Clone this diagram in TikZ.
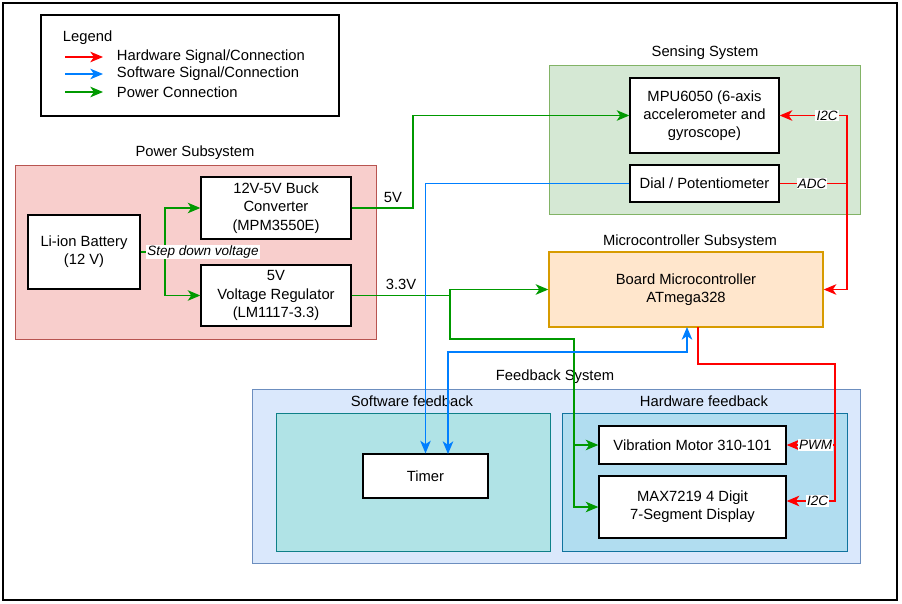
\documentclass[tikz,border=0pt]{standalone}
\usepackage{fontspec}
\setmainfont{Liberation Sans}
\usetikzlibrary{arrows.meta}

\definecolor{hwred}{HTML}{FF0000}
\definecolor{swblue}{HTML}{007FFF}
\definecolor{pwrgreen}{HTML}{009900}
\definecolor{pinkfill}{HTML}{F8CECC}
\definecolor{pinkline}{HTML}{B85450}
\definecolor{greenfill}{HTML}{D5E8D4}
\definecolor{greenline}{HTML}{82B366}
\definecolor{orangefill}{HTML}{FFE6CC}
\definecolor{orangeline}{HTML}{D79B00}
\definecolor{bluefill}{HTML}{DAE8FC}
\definecolor{blueline}{HTML}{6C8EBF}
\definecolor{tealfill}{HTML}{B0E3E6}
\definecolor{tealline}{HTML}{0E8088}
\definecolor{skyfill}{HTML}{B1DDF0}
\definecolor{skyline}{HTML}{10739E}

\begin{document}
\begin{tikzpicture}[x=0.025cm, y=-0.025cm, >={Stealth[length=9pt,width=7.5pt,inset=2.5pt]},
    font=\fontsize{10.5}{13}\selectfont,
    box/.style={draw, fill=white, line width=0.9pt, align=center, inner sep=0pt},
    hw/.style={draw=hwred, line width=0.9pt},
    sw/.style={draw=swblue, line width=0.9pt},
    pwr/.style={draw=pwrgreen, line width=0.9pt},
    lbl/.style={fill=white, inner sep=0.8pt, font=\fontsize{9.6}{11}\selectfont\itshape}]
    \useasboundingbox (0,0) rectangle (902,604);
    \draw[line width=1pt] (3,3) rectangle (897,600);

    % legend
    \draw[line width=0.8pt] (41,15) rectangle (339,116);
    \node[anchor=west] (leg) at (58,38) {Legend};
    \draw[hw,->] (65,57) -- (103,57);
    \draw[sw,->] (65,74) -- (103,74);
    \draw[pwr,->] (65,92) -- (103,92);
    \node[anchor=west] (leghw) at (112,57) {Hardware Signal/Connection};
    \node[anchor=west] (legsw) at (112,74) {Software Signal/Connection};
    \node[anchor=west] (legpw) at (112,92) {Power Connection};

    % groups
    \draw[draw=pinkline, fill=pinkfill] (15,165) rectangle (376,339);
    \node (powlbl) at (195,153) {Power Subsystem};
    \draw[draw=greenline, fill=greenfill] (549,65) rectangle (860,214);
    \node (senlbl) at (705,53) {Sensing System};
    \draw[draw=blueline, fill=bluefill] (252,389) rectangle (860,563);
    \node (fdblbl) at (555,377) {Feedback System};
    \draw[draw=tealline, fill=tealfill] (276,413) rectangle (550,551);
    \node (swlbl) at (412,401) {Software feedback};
    \draw[draw=skyline, fill=skyfill] (562,413) rectangle (847,551);
    \node (hwlbl) at (704,401) {Hardware feedback};
    \node (mculbl) at (690,242) {Microcontroller Subsystem};

    % blocks
    \node[box, minimum width=2.8cm, minimum height=1.85cm] (bat) at (84,252)
        {Li-ion Battery\\(12 V)};
    \node[box, minimum width=3.75cm, minimum height=1.55cm] (buck) at (276,208)
        {12V-5V Buck\\Converter\\(MPM3550E)};
    \node[box, minimum width=3.75cm, minimum height=1.525cm] (reg) at (276,295.5)
        {5V\\Voltage Regulator\\(LM1117-3.3)};
    \node[box, minimum width=3.725cm, minimum height=1.875cm] (mpu) at (704.5,115.5)
        {MPU6050 (6-axis\\accelerometer and\\gyroscope)};
    \node[box, minimum width=3.725cm, minimum height=0.925cm] (dial) at (704.5,183.5)
        {Dial / Potentiometer};
    \node[box, draw=orangeline, fill=orangefill, minimum width=6.85cm, minimum height=1.875cm]
        (mcu) at (686,289.5) {Board Microcontroller\\ATmega328};
    \node[box, minimum width=3.125cm, minimum height=1.1cm] (tmr) at (425.5,476) {Timer};
    \node[box, minimum width=4.675cm, minimum height=0.95cm] (vib) at (692.5,445)
        {Vibration Motor 310-101};
    \node[box, minimum width=4.675cm, minimum height=1.55cm] (disp) at (692.5,507)
        {MAX7219 4 Digit\\7-Segment Display};

    \coordinate (split) at (165,252);
    \coordinate (rail) at (450,295.5);
    \coordinate (fbrail) at (574,445);
    \coordinate (tmrB) at (448,454);
    \coordinate (mcuS) at (687,327);
    \coordinate (mcuO) at (698,327);
    \coordinate (senR) at (847,183.5);
    \coordinate (fbR) at (835,445);

    % power
    \draw[pwr,->] (bat.east) -- (split) |- (buck.west);
    \draw[pwr,->] (split) |- (reg.west);
    \draw[pwr,->] (buck.east) -- (413,208) |- (mpu.west);
    \draw[pwr,->] (reg.east) -- (rail) |- (mcu.west);
    \draw[pwr,->] (rail) -- (450,339) -| (fbrail) -- (vib.west);
    \draw[pwr,->] (fbrail) |- (disp.west);
    \node (v5) at (393,197) {5V};
    \node (v33) at (401,284) {3.3V};
    \node[lbl] (stepl) at (203,252) {Step down voltage};

    % software
    \draw[sw,->] (dial.west) -| (tmr.north);
    \draw[sw,<->] (tmrB) |- (687,352) -- (mcuS);

    % hardware
    \draw[hw,->] (dial.east) -- (senR) |- (mcu.east);
    \draw[hw,->] (senR) |- (mpu.east);
    \draw[hw,->] (mcuO) |- (835,364) |- (vib.east);
    \draw[hw,->] (fbR) |- ([yshift=0.15cm]disp.east);
    \node[lbl] (i2ca) at (827,115.5) {I2C};
    \node[lbl] (adc) at (812,183.5) {ADC};
    \node[lbl] (pwm) at (815.5,445) {PWM};
    \node[lbl] (i2cb) at (817.5,501) {I2C};
\end{tikzpicture}
\end{document}
